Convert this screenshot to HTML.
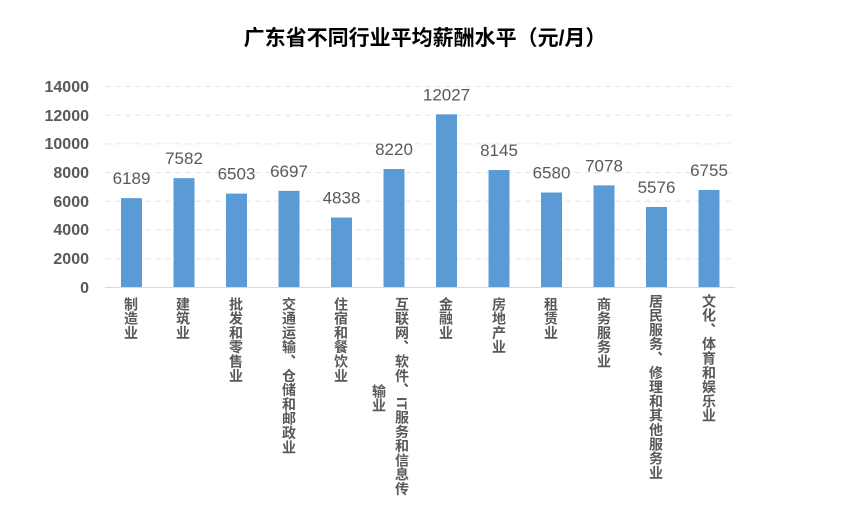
<!DOCTYPE html>
<html><head><meta charset="utf-8"><style>
body{margin:0;background:#fff;width:856px;height:512px;overflow:hidden;position:relative;font-family:"Liberation Sans","Noto Sans CJK SC",sans-serif;}
.v{position:absolute;writing-mode:vertical-rl;text-orientation:mixed;font-size:14px;line-height:16px;letter-spacing:0.3px;font-weight:bold;color:#595959;white-space:nowrap;}
</style></head><body>
<svg width="856" height="512" style="position:absolute;left:0;top:0" font-family="Liberation Sans, Noto Sans CJK SC, sans-serif">
<text x="425" y="45" text-anchor="middle" font-size="21" font-weight="bold" fill="#000">广东省不同行业平均薪酬水平（元/月）</text>
<g stroke="#e6e6e6" stroke-dasharray="6,4" stroke-width="1">
<line x1="105" x2="735" y1="86.5" y2="86.5"/><line x1="105" x2="735" y1="115.2" y2="115.2"/><line x1="105" x2="735" y1="143.9" y2="143.9"/><line x1="105" x2="735" y1="172.6" y2="172.6"/><line x1="105" x2="735" y1="201.3" y2="201.3"/><line x1="105" x2="735" y1="230" y2="230"/><line x1="105" x2="735" y1="258.7" y2="258.7"/>
</g>
<line x1="105" x2="735" y1="287.5" y2="287.5" stroke="#d9d9d9"/>
<g font-size="16" font-weight="bold" fill="#595959" text-anchor="end">
<text x="89" y="92">14000</text><text x="89" y="121">12000</text><text x="89" y="149">10000</text><text x="89" y="178">8000</text><text x="89" y="207">6000</text><text x="89" y="235">4000</text><text x="89" y="264">2000</text><text x="89" y="293">0</text>
</g>
<g fill="#5b9bd5" id="bars"></g>
<g font-size="17" fill="#595959" text-anchor="middle" id="vals"></g>
</svg>
<div class="v" style="left:123px;top:297px">制造业</div>
<div class="v" style="left:175px;top:297px">建筑业</div>
<div class="v" style="left:228px;top:297px">批发和零售业</div>
<div class="v" style="left:281px;top:297px">交通运输、仓储和邮政业</div>
<div class="v" style="left:333px;top:297px">住宿和餐饮业</div>
<div class="v" style="left:394px;top:297px">互联网、软件、IT服务和信息传</div>
<div class="v" style="left:371px;top:384px">输业</div>
<div class="v" style="left:438px;top:297px">金融业</div>
<div class="v" style="left:491px;top:297px">房地产业</div>
<div class="v" style="left:543px;top:297px">租赁业</div>
<div class="v" style="left:596px;top:297px">商务服务业</div>
<div class="v" style="left:648px;top:294px">居民服务、修理和其他服务业</div>
<div class="v" style="left:701px;top:294px">文化、体育和娱乐业</div>
<script>
var v=[6189,7582,6503,6697,4838,8220,12027,8145,6580,7078,5576,6755];
var b=document.getElementById('bars'),t=document.getElementById('vals'),ns='http://www.w3.org/2000/svg';
v.forEach(function(x,i){var c=131.5+52.5*i,h=x*201/14000,y=287-h;
var r=document.createElementNS(ns,'rect');r.setAttribute('x',c-10.5);r.setAttribute('y',y);r.setAttribute('width',21);r.setAttribute('height',h);b.appendChild(r);
var s=document.createElementNS(ns,'text');s.setAttribute('x',c);s.setAttribute('y',y-14);s.textContent=x;t.appendChild(s);});
</script>
</body></html>
